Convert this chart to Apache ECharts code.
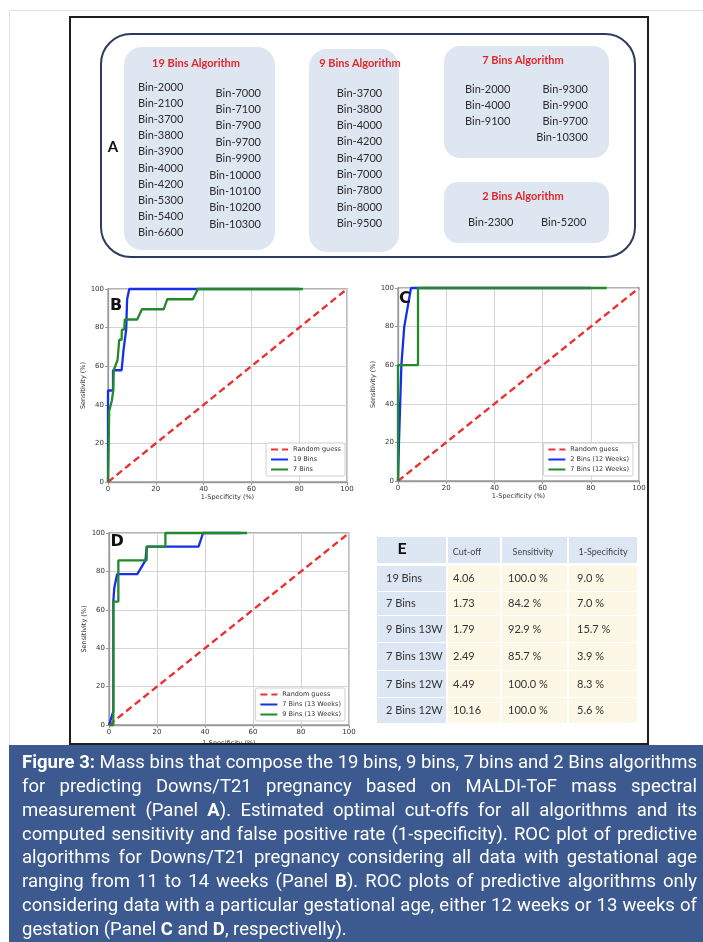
<!DOCTYPE html>
<html><head><meta charset="utf-8">
<script src="https://cdn.jsdelivr.net/npm/echarts@6/dist/echarts.min.js"></script>
<style>html,body{margin:0;padding:0;background:#fff}#c{width:703px;height:942px}</style>
</head><body><div id="c"></div>
<script>
// ---------------- DATA ----------------
const axisTickValues = [0, 20, 40, 60, 80, 100];
const randomGuess = [[0, 0], [100, 100]];

// Panel B (all data, 11-14 weeks)
const rocB19Bins = [[0,0],[0,47.4],[2.1,47.4],[2.1,57.9],[5.7,57.9],[6.5,68.4],[7.6,78.9],[8.0,94.7],[8.9,100],[80,100]];
const rocB7Bins = [[0,0],[0.3,21.1],[0.5,36.8],[1.3,36.8],[1.6,42.1],[2.2,47.4],[2.4,57.9],[3.0,57.9],[4.0,63.2],[4.7,73.7],[5.7,73.7],[5.8,78.9],[6.8,78.9],[7.0,84.2],[12.2,84.2],[14.2,89.5],[23.3,89.5],[24.8,94.7],[35.5,94.7],[37.6,100],[81.6,100]];
// Panel C (12 weeks)
const rocC2Bins = [[0,0],[0.4,20],[0.9,40],[1.4,60],[2.6,80],[5.4,100],[80,100]];
const rocC7Bins = [[0,0],[0,60],[8.3,60],[8.3,100],[86.6,100]];
// Panel D (13 weeks)
const rocD7Bins = [[0,0],[1.8,7.1],[1.8,64.3],[2.2,71.4],[3.4,78.6],[11.8,78.6],[15.2,85.7],[15.7,92.9],[37.3,92.9],[39.2,100],[55,100]];
const rocD9Bins = [[0,0],[1.8,0],[1.8,64.3],[3.9,64.3],[3.9,85.7],[15.7,85.7],[15.7,92.9],[23.5,92.9],[23.5,100],[57.5,100]];

// Panel A
const bins19 = ['Bin-2000','Bin-2100','Bin-3700','Bin-3800','Bin-3900','Bin-4000','Bin-4200','Bin-5300','Bin-5400','Bin-6600',
                'Bin-7000','Bin-7100','Bin-7900','Bin-9700','Bin-9900','Bin-10000','Bin-10100','Bin-10200','Bin-10300'];
const bins9 = ['Bin-3700','Bin-3800','Bin-4000','Bin-4200','Bin-4700','Bin-7000','Bin-7800','Bin-8000','Bin-9500'];
const bins7 = ['Bin-2000','Bin-4000','Bin-9100','Bin-9300','Bin-9900','Bin-9700','Bin-10300'];
const bins2 = ['Bin-2300','Bin-5200'];

// Panel E
const tableHeader = ['Cut-off', 'Sensitivity', '1-Specificity'];
const tableRows = ['19 Bins', '7 Bins', '9 Bins 13W', '7 Bins 13W', '7 Bins 12W', '2 Bins 12W'];
const cutOffs = ['4.06', '1.73', '1.79', '2.49', '4.49', '10.16'];
const sensitivity = [100.0, 84.2, 92.9, 85.7, 100.0, 100.0];
const oneMinusSpecificity = [9.0, 7.0, 15.7, 3.9, 8.3, 5.6];

const captionLines = [
  '*Figure 3:* Mass bins that compose the 19 bins, 9 bins, 7 bins and 2 Bins algorithms',
  'for predicting Downs/T21 pregnancy based on MALDI-ToF mass spectral',
  'measurement (Panel *A*). Estimated optimal cut-offs for all algorithms and its',
  'computed sensitivity and false positive rate (1-specificity). ROC plot of predictive',
  'algorithms for Downs/T21 pregnancy considering all data with gestational age',
  'ranging from 11 to 14 weeks (Panel *B*). ROC plots of predictive algorithms only',
  'considering data with a particular gestational age, either 12 weeks or 13 weeks of',
  'gestation (Panel *C* and *D*, respectivelly).'
];

// ---------------- STYLE ----------------
const BLUE = '#1530e8', GREEN = '#23892a', RED = '#ea3232';
const AX = '#9a9a9a', GRIDC = '#d4d4d4', TXT = '#333';
const PLOT_FONT = 'DejaVu Sans';
const BOX_FONT = 'Lato';

const grids = [
  {left:108, top:289, width:239, height:193},
  {left:398, top:288, width:241, height:193},
  {left:109, top:533, width:240, height:192}
];
const xNameGaps = [12, 12, 15];

function xAxisFor(i){
  return {type:'value', gridIndex:i, min:0, max:100, interval:20,
    name:'1-Specificity (%)', nameLocation:'middle', nameGap:xNameGaps[i],
    nameTextStyle:{fontSize:6.5, color:TXT, fontFamily:PLOT_FONT},
    axisLine:{show:true, onZero:false, lineStyle:{color:AX, width:1.3}},
    axisTick:{show:true, length:3, lineStyle:{color:AX}},
    axisLabel:{fontSize:7, color:TXT, margin:4, fontFamily:PLOT_FONT,
      formatter: v => axisTickValues.includes(v) ? String(v) : ''},
    splitLine:{show:true, lineStyle:{color:GRIDC, width:1}}};
}
function yAxisFor(i){
  return {type:'value', gridIndex:i, min:0, max:100, interval:20,
    name:'Sensitivity (%)', nameLocation:'middle', nameGap:20, nameRotate:90,
    nameTextStyle:{fontSize:6.5, color:TXT, fontFamily:PLOT_FONT},
    axisLine:{show:true, onZero:false, lineStyle:{color:AX, width:1.3}},
    axisTick:{show:true, length:3, lineStyle:{color:AX}},
    axisLabel:{fontSize:7, color:TXT, margin:4, fontFamily:PLOT_FONT,
      formatter: v => axisTickValues.includes(v) ? String(v) : ''},
    splitLine:{show:true, lineStyle:{color:GRIDC, width:1}}};
}
function ser(name, data, i, color, dashed, z){
  return {type:'line', name, data, xAxisIndex:i, yAxisIndex:i, symbol:'none', showSymbol:false,
    clip:false, animation:false, silent:true, z:z,
    lineStyle:{color, width: dashed ? 2.4 : 2.3, type: dashed ? [7,4] : 'solid'},
    itemStyle:{color}};
}
function legendFor(names, right, top){
  return {data:names, orient:'vertical', right, top, selectedMode:false,
    backgroundColor:'#fff', borderColor:'#cfcfcf', borderWidth:1, borderRadius:2,
    padding:[3,4,3,4], itemGap:3, itemWidth:17, itemHeight:6,
    itemStyle:{opacity:0, borderWidth:0},
    textStyle:{fontSize:6.5, color:TXT, fontFamily:PLOT_FONT}};
}

// ---------------- GRAPHICS ----------------
const G = [];
function T(x, y, text, font, fill, align, valign, extra){
  const el = {type:'text', x, y, silent:true, z:(extra&&extra.z)||10,
    style:{text, font, fill, align:align||'left', verticalAlign:valign||'middle',
           textAlign:align||'left', textVerticalAlign:valign||'middle'}};
  if (extra && extra.scaleX) el.scaleX = extra.scaleX;
  G.push(el);
}
function R(x, y, w, h, fill, stroke, lw, r, z){
  G.push({type:'rect', silent:true, z:z||1, shape:{x, y, width:w, height:h, r:r||0},
    style:{fill:fill||'none', stroke:stroke||'none', lineWidth:lw||0}});
}

// page frames
G.push({type:'polyline', silent:true, z:1, shape:{points:[[9.5,745],[9.5,10.5],[703,10.5]]}, style:{stroke:'#e2e2e2', lineWidth:1, fill:'none'}});
R(70, 17, 578, 727, 'none', '#1e1e1e', 2, 0, 2);

// Panel A
R(101, 34, 534, 223, 'none', '#2f3b5e', 2, 30, 3);
const boxFill = '#dde6f1';
R(124, 47, 151, 203, boxFill, null, 0, 18, 2);
R(309, 49, 90, 203, boxFill, null, 0, 18, 2);
R(444, 46, 165, 112, boxFill, null, 0, 16, 2);
R(444, 182, 165, 61, boxFill, null, 0, 14, 2);
T(113, 147, 'A', 'bold 15px ' + BOX_FONT, '#111', 'center');
const titleFont = 'bold 11px ' + BOX_FONT, titleCol = '#e3262a';
const binFont = '11px ' + BOX_FONT, binCol = '#2b2b2b';
T(196, 63, '19 Bins Algorithm', titleFont, titleCol, 'center');
T(360, 63, '9 Bins Algorithm', titleFont, titleCol, 'center');
T(523, 60, '7 Bins Algorithm', titleFont, titleCol, 'center');
T(523, 196, '2 Bins Algorithm', titleFont, titleCol, 'center');
bins19.slice(0, 10).forEach((b, i) => T(138, 87 + i * 16.2, b, binFont, binCol, 'left'));
bins19.slice(10).forEach((b, i) => T(261, 93 + i * 16.4, b, binFont, binCol, 'right'));
bins9.forEach((b, i) => T(359.5, 93 + i * 16.3, b, binFont, binCol, 'center'));
bins7.slice(0, 3).forEach((b, i) => T(465, 89 + i * 16.3, b, binFont, binCol, 'left'));
bins7.slice(3).forEach((b, i) => T(588, 89 + i * 16.3, b, binFont, binCol, 'right'));
bins2.forEach((b, i) => T(468 + i * 73, 222, b, binFont, binCol, 'left'));

// Panel letters
T(110, 306, 'B', 'bold 16px ' + PLOT_FONT, '#111', 'left', 'middle', {z:20});
T(399, 299, 'C', 'bold 16px ' + PLOT_FONT, '#111', 'left', 'middle', {z:20});
T(110.5, 542, 'D', 'bold 16px ' + PLOT_FONT, '#111', 'left', 'middle', {z:20});

// Panel E table
const colX = [[377, 446], [448, 500], [502, 567], [569, 637]];
const rowY = [[566, 591], [592, 615], [616, 642], [643, 670], [671, 697], [698, 723]];
const hdrFill = '#dde7f3', cellFill = '#fdf7e6';
colX.forEach(c => R(c[0], 537, c[1] - c[0], 26, hdrFill, null, 0, 0, 2));
rowY.forEach((r, ri) => {
  colX.forEach((c, ci) => R(c[0], r[0], c[1] - c[0], r[1] - r[0], ci === 0 ? hdrFill : cellFill, null, 0, 0, 2));
});
T(402, 549, 'E', 'bold 16px ' + BOX_FONT, '#111', 'center');
tableHeader.forEach((h, i) => T([467, 533, 603][i], 552, h, '9px ' + BOX_FONT, '#444', 'center'));
const cellFont = '11px ' + BOX_FONT;
tableRows.forEach((name, i) => {
  const cy = (rowY[i][0] + rowY[i][1]) / 2;
  T(386, cy, name, cellFont, TXT, 'left');
  T(453, cy, cutOffs[i], cellFont, TXT, 'left');
  T(508, cy, sensitivity[i].toFixed(1) + ' %', cellFont, TXT, 'left');
  T(577, cy, oneMinusSpecificity[i].toFixed(1) + ' %', cellFont, TXT, 'left');
});

// Caption
R(9, 745, 694, 197, '#3c5a8f', null, 0, 0, 50);
(function caption(){
  const cv = document.createElement('canvas').getContext('2d');
  const FS = 19, FAM = 'Roboto';
  const fontOf = b => (b ? 'bold ' : '') + FS + 'px ' + FAM;
  const meas = (t, b) => { cv.font = fontOf(b); return cv.measureText(t).width; };
  function parse(s){
    const words = []; let cur = [], bold = false, buf = '';
    for (const ch of s){
      if (ch === '*'){ if (buf){ cur.push([buf, bold]); buf = ''; } bold = !bold; }
      else if (ch === ' '){ if (buf){ cur.push([buf, bold]); buf = ''; } if (cur.length){ words.push(cur); cur = []; } }
      else buf += ch;
    }
    if (buf) cur.push([buf, bold]); if (cur.length) words.push(cur);
    return words;
  }
  const X0 = 22, W = 675, sp = meas(' ', false);
  const l1 = parse(captionLines[0]);
  let nat = 0; l1.forEach(w => w.forEach(r => nat += meas(r[0], r[1]))); nat += sp * (l1.length - 1);
  const k = W / nat;
  captionLines.forEach((line, li) => {
    const words = parse(line);
    const ww = words.map(w => w.reduce((a, r) => a + meas(r[0], r[1]) * k, 0));
    const tot = ww.reduce((a, b) => a + b, 0);
    const last = li === captionLines.length - 1;
    const gap = last ? sp * k : (W - tot) / (words.length - 1);
    let x = X0; const y = 763.5 + li * 23.8;
    words.forEach((w, wi) => {
      let xx = x;
      w.forEach(r => {
        T(xx, y, r[0], fontOf(r[1]), '#ffffff', 'left', 'middle', {scaleX:k, z:60});
        xx += meas(r[0], r[1]) * k;
      });
      x += ww[wi] + gap;
    });
  });
})();

// ---------------- CHART ----------------
const chart = echarts.init(document.getElementById('c'), null, {renderer:'canvas'});
chart.setOption({
  animation:false,
  backgroundColor:'#ffffff',
  grid: grids.map(g => Object.assign({show:true, borderColor:AX, borderWidth:1.3, backgroundColor:'transparent'}, g)),
  xAxis: [0, 1, 2].map(xAxisFor),
  yAxis: [0, 1, 2].map(yAxisFor),
  legend: [
    legendFor(['Random guess', '19 Bins', '7 Bins'], 358, 443),
    legendFor(['Random guess', '2 Bins (12 Weeks)', '7 Bins (12 Weeks)'], 70, 443),
    legendFor(['Random guess', '7 Bins (13 Weeks)', '9 Bins (13 Weeks)'], 358, 688)
  ],
  series: [
    ser('Random guess', randomGuess, 0, RED, true, 3),
    ser('19 Bins', rocB19Bins, 0, BLUE, false, 4),
    ser('7 Bins', rocB7Bins, 0, GREEN, false, 5),
    ser('Random guess', randomGuess, 1, RED, true, 3),
    ser('2 Bins (12 Weeks)', rocC2Bins, 1, BLUE, false, 4),
    ser('7 Bins (12 Weeks)', rocC7Bins, 1, GREEN, false, 5),
    ser('Random guess', randomGuess, 2, RED, true, 3),
    ser('7 Bins (13 Weeks)', rocD7Bins, 2, BLUE, false, 4),
    ser('9 Bins (13 Weeks)', rocD9Bins, 2, GREEN, false, 5)
  ],
  graphic: {elements: G}
});
</script></body></html>
